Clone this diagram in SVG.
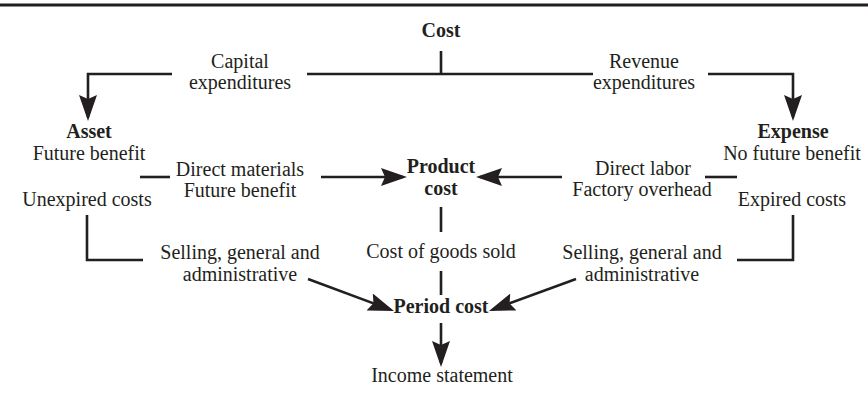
<svg xmlns="http://www.w3.org/2000/svg" width="868" height="396" viewBox="0 0 868 396">
<style>
text{font-family:"Liberation Serif","Times New Roman",serif;font-size:20px;fill:#231f20;text-anchor:middle}
.b{font-weight:bold}
.c{stroke:#231f20;stroke-width:2.6;fill:none}
</style>
<defs>
<marker id="ah" viewBox="0 0 26 18" refX="22" refY="9" markerWidth="26" markerHeight="18" markerUnits="userSpaceOnUse" orient="auto">
<path d="M0,0 L26,9 L0,18 L4,9 z" fill="#231f20"/>
</marker>
</defs>
<rect width="868" height="396" fill="#fff"/>
<line x1="0" y1="5" x2="868" y2="5" stroke="#231f20" stroke-width="3"/>
<g id="connectors">
<path class="c" d="M441,51 V74 M307,74 H593"/>
<path class="c" d="M172,74 H88 V117" marker-end="url(#ah)"/>
<path class="c" d="M708,74 H793 V117" marker-end="url(#ah)"/>
<path class="c" d="M140,177 H170"/>
<path class="c" d="M321,177 H403" marker-end="url(#ah)"/>
<path class="c" d="M562,177 H480" marker-end="url(#ah)"/>
<path class="c" d="M705,177 H737"/>
<path class="c" d="M87,215 V260 H143"/>
<path class="c" d="M793,215 V260 H737"/>
<path class="c" d="M441,207 V232 M441,271 V295"/>
<path class="c" d="M308,279 L390.3,309.6" marker-end="url(#ah)"/>
<path class="c" d="M576,279 L492.7,309.6" marker-end="url(#ah)"/>
<path class="c" d="M441,323 V363" marker-end="url(#ah)"/>
</g>
<g id="cost"><text class="b" x="441" y="37">Cost</text></g>
<g id="capital"><text x="240" y="68">Capital</text><text x="240" y="89">expenditures</text></g>
<g id="revenue"><text x="644" y="68">Revenue</text><text x="644" y="89">expenditures</text></g>
<g id="asset"><text class="b" x="89" y="138">Asset</text><text x="89" y="160">Future benefit</text></g>
<g id="unexpired"><text x="87" y="206">Unexpired costs</text></g>
<g id="expense"><text class="b" x="793" y="138">Expense</text><text x="792" y="160">No future benefit</text></g>
<g id="expired"><text x="792" y="206">Expired costs</text></g>
<g id="direct-materials"><text x="240" y="176">Direct materials</text><text x="240" y="197">Future benefit</text></g>
<g id="product-cost"><text class="b" x="441" y="173">Product</text><text class="b" x="441" y="195">cost</text></g>
<g id="direct-labor"><text x="643" y="175">Direct labor</text><text x="642" y="196">Factory overhead</text></g>
<g id="sga-left"><text x="240" y="259">Selling, general and</text><text x="240" y="281">administrative</text></g>
<g id="cogs"><text x="441" y="258">Cost of goods sold</text></g>
<g id="sga-right"><text x="642" y="259">Selling, general and</text><text x="642" y="281">administrative</text></g>
<g id="period-cost"><text class="b" x="441" y="313">Period cost</text></g>
<g id="income"><text x="442" y="382">Income statement</text></g>
</svg>
